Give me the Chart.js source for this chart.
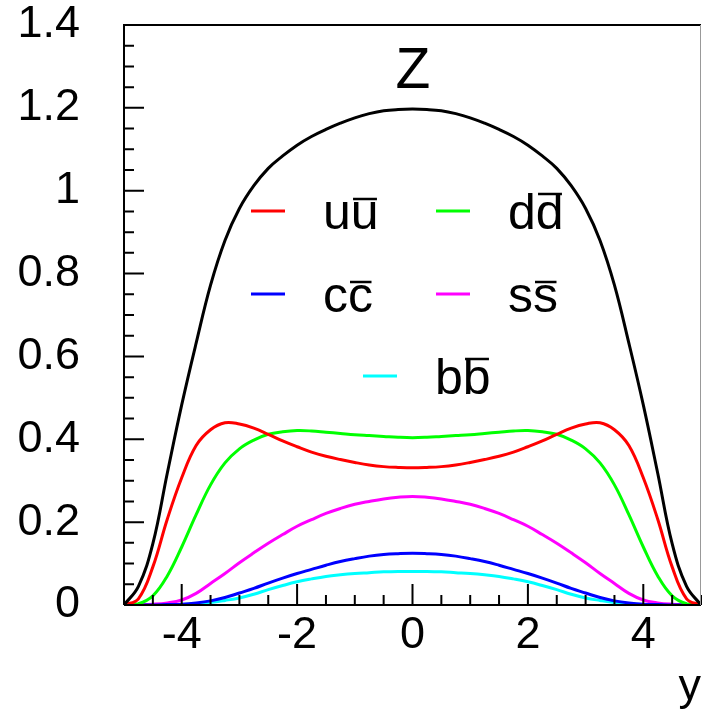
<!DOCTYPE html>
<html>
<head>
<meta charset="utf-8">
<script src="https://cdn.jsdelivr.net/npm/chart.js@4.4.0/dist/chart.umd.min.js"></script>
<style>
  body { margin: 0; background: #fff; }
</style>
</head>
<body>
<canvas id="rapidityChart" width="702" height="712"></canvas>
<script>
// rapidity grid, -5 .. 5 in steps of 0.25
const rapidity = [-5, -4.75, -4.5, -4.25, -4, -3.75, -3.5, -3.25, -3, -2.75, -2.5, -2.25, -2, -1.75, -1.5, -1.25, -1, -0.75, -0.5, -0.25,
  0, 0.25, 0.5, 0.75, 1, 1.25, 1.5, 1.75, 2, 2.25, 2.5, 2.75, 3, 3.25, 3.5, 3.75, 4, 4.25, 4.5, 4.75, 5];

const totalZ = [0, 0.045, 0.148, 0.318, 0.483, 0.632, 0.772, 0.88, 0.957, 1.012, 1.054, 1.084, 1.11, 1.131, 1.148, 1.163, 1.176, 1.186, 1.193, 1.196,
  1.197, 1.196, 1.193, 1.186, 1.176, 1.163, 1.148, 1.131, 1.11, 1.084, 1.054, 1.012, 0.957, 0.88, 0.772, 0.632, 0.483, 0.318, 0.148, 0.045, 0];
const uubar = [0, 0.015, 0.092, 0.207, 0.307, 0.385, 0.423, 0.44, 0.437, 0.427, 0.412, 0.396, 0.382, 0.369, 0.359, 0.351, 0.344, 0.338, 0.334, 0.332,
  0.331, 0.332, 0.334, 0.338, 0.344, 0.351, 0.359, 0.369, 0.382, 0.396, 0.412, 0.427, 0.437, 0.44, 0.423, 0.385, 0.307, 0.207, 0.092, 0.015, 0];
const ddbar = [0, 0.003, 0.022, 0.07, 0.14, 0.218, 0.29, 0.343, 0.377, 0.398, 0.412, 0.418, 0.421, 0.42, 0.417, 0.414, 0.411, 0.409, 0.407, 0.405,
  0.404, 0.405, 0.407, 0.409, 0.411, 0.414, 0.417, 0.42, 0.421, 0.418, 0.412, 0.398, 0.377, 0.343, 0.29, 0.218, 0.14, 0.07, 0.022, 0.003, 0];
const ssbar = [0, 0.001, 0.002, 0.005, 0.012, 0.028, 0.052, 0.076, 0.102, 0.126, 0.149, 0.17, 0.19, 0.206, 0.221, 0.233, 0.243, 0.25, 0.256, 0.26,
  0.262, 0.26, 0.256, 0.25, 0.243, 0.233, 0.221, 0.206, 0.19, 0.17, 0.149, 0.126, 0.102, 0.076, 0.052, 0.028, 0.012, 0.005, 0.002, 0.001, 0];
const ccbar = [0, 0, 0, 0.001, 0.002, 0.005, 0.01, 0.018, 0.029, 0.04, 0.053, 0.065, 0.076, 0.086, 0.096, 0.105, 0.112, 0.118, 0.122, 0.124,
  0.125, 0.124, 0.122, 0.118, 0.112, 0.105, 0.096, 0.086, 0.076, 0.065, 0.053, 0.04, 0.029, 0.018, 0.01, 0.005, 0.002, 0.001, 0, 0, 0];
const bbbar = [0, 0, 0, 0, 0.001, 0.003, 0.006, 0.011, 0.017, 0.026, 0.037, 0.047, 0.056, 0.063, 0.069, 0.073, 0.076, 0.078, 0.08, 0.081,
  0.081, 0.081, 0.08, 0.078, 0.076, 0.073, 0.069, 0.063, 0.056, 0.047, 0.037, 0.026, 0.017, 0.011, 0.006, 0.003, 0.001, 0, 0, 0, 0];

const xTicks = [-4, -2, 0, 2, 4];
const yTicks = [0, 0.2, 0.4, 0.6, 0.8, 1, 1.2, 1.4];
const yTickLabels = ['0', '0.2', '0.4', '0.6', '0.8', '1', '1.2', '1.4'];

// legend: quark letter, colour
const legendQuarks = ['u', 'd', 'c', 's', 'b'];
const legendColors = ['#ff0000', '#00ff00', '#0000ff', '#ff00ff', '#00ffff'];

const FONT = '"Liberation Sans", Arial, Helvetica, sans-serif';

function pts(ys) {
  return rapidity.map((x, i) => ({ x: x, y: ys[i] }));
}

// ROOT-style frame: inward major/minor ticks
const rootFrame = {
  id: 'rootFrame',
  afterDatasetsDraw(chart) {
    const { ctx, chartArea: a, scales: { x, y } } = chart;
    ctx.save();
    ctx.strokeStyle = '#000';
    ctx.lineWidth = 2;
    ctx.beginPath();
    ctx.moveTo(a.left, a.bottom);
    ctx.lineTo(a.left, a.top);
    ctx.lineTo(a.right, a.top);
    ctx.moveTo(a.left, a.bottom);
    ctx.lineTo(a.right, a.bottom);
    for (let i = 0; i <= 28; i++) {
      const py = y.getPixelForValue(i * 0.05);
      ctx.moveTo(a.left, py);
      ctx.lineTo(a.left + (i % 4 === 0 ? 20 : 10), py);
    }
    for (let i = -10; i <= 10; i++) {
      const px = x.getPixelForValue(i * 0.5);
      ctx.moveTo(px, a.bottom);
      ctx.lineTo(px, a.bottom - (i % 4 === 0 ? 21 : 10));
    }
    ctx.stroke();
    ctx.strokeStyle = '#999';
    ctx.lineWidth = 1;
    ctx.beginPath();
    ctx.moveTo(a.right - 0.5, a.top);
    ctx.lineTo(a.right - 0.5, a.bottom);
    ctx.stroke();
    ctx.restore();
  },
  afterDraw(chart) {
    const ctx = chart.ctx;
    ctx.save();
    ctx.fillStyle = '#000';
    ctx.textAlign = 'center';
    ctx.textBaseline = 'alphabetic';
    ctx.font = '57px ' + FONT;
    ctx.fillText('Z', 413, 88);

    const slots = [[251, 211], [436, 211], [251, 294], [436, 294], [363, 376]];
    ctx.font = '50px ' + FONT;
    ctx.textAlign = 'left';
    legendQuarks.forEach((q, i) => {
      const [lx, ly] = slots[i];
      ctx.strokeStyle = legendColors[i];
      ctx.lineWidth = 3;
      ctx.beginPath();
      ctx.moveTo(lx, ly);
      ctx.lineTo(lx + 34, ly);
      ctx.stroke();
      const tx = lx + 72;
      const base = ly + 18;
      const w = ctx.measureText(q).width;
      ctx.fillText(q, tx, base);
      ctx.fillText(q, tx + w, base);
      const tall = (q === 'd' || q === 'b');
      const by = base - (tall ? 35 : 30);
      ctx.strokeStyle = '#000';
      ctx.lineWidth = 2.5;
      ctx.beginPath();
      ctx.moveTo(tx + w + w * 0.08, by);
      ctx.lineTo(tx + 2 * w - w * 0.06, by);
      ctx.stroke();
    });
    ctx.restore();
  }
};

const tickFont = { family: FONT, size: 45 };

new Chart(document.getElementById('rapidityChart').getContext('2d'), {
  type: 'line',
  data: {
    datasets: [
      { label: 'Z', data: pts(totalZ), borderColor: '#000000' },
      { label: 'uubar', data: pts(uubar), borderColor: legendColors[0] },
      { label: 'ddbar', data: pts(ddbar), borderColor: legendColors[1] },
      { label: 'ccbar', data: pts(ccbar), borderColor: legendColors[2] },
      { label: 'ssbar', data: pts(ssbar), borderColor: legendColors[3] },
      { label: 'bbbar', data: pts(bbbar), borderColor: legendColors[4] }
    ]
  },
  options: {
    responsive: false,
    animation: false,
    devicePixelRatio: 1,
    layout: { padding: { top: 25, right: 1, left: 0, bottom: 0 } },
    elements: {
      point: { radius: 0 },
      line: { borderWidth: 3, tension: 0.4, fill: false }
    },
    plugins: {
      legend: { display: false },
      tooltip: { enabled: false }
    },
    scales: {
      x: {
        type: 'linear',
        min: -5,
        max: 5,
        afterBuildTicks: s => { s.ticks = xTicks.map(v => ({ value: v })); },
        afterFit: s => { s.height = 107; s.paddingLeft = 0; s.paddingRight = 0; },
        grid: { display: false, drawTicks: false },
        border: { display: false },
        ticks: { font: tickFont, color: '#000', padding: 4, maxRotation: 0 },
        title: { display: true, text: 'y', align: 'end', color: '#000', font: tickFont, padding: { top: 0, bottom: -3 } }
      },
      y: {
        min: 0,
        max: 1.4,
        afterBuildTicks: s => { s.ticks = yTicks.map(v => ({ value: v })); },
        afterFit: s => { s.width = 124; s.paddingTop = 0; s.paddingBottom = 0; },
        grid: { display: false, drawTicks: false },
        border: { display: false },
        ticks: {
          font: tickFont,
          color: '#000',
          padding: 44,
          callback: (v, i) => yTickLabels[i]
        }
      }
    }
  },
  plugins: [rootFrame]
});
</script>
</body>
</html>
